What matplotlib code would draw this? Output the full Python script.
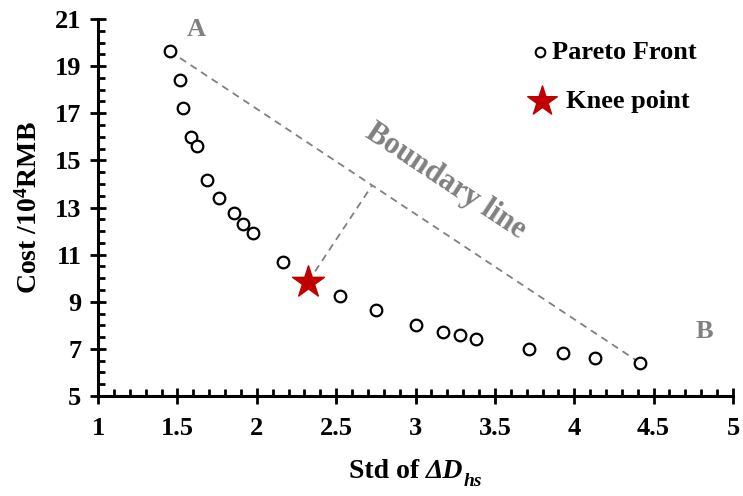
import matplotlib.pyplot as plt
import numpy as np
from matplotlib.ticker import MultipleLocator

plt.rcParams['font.family'] = ['Liberation Serif', 'DejaVu Serif']
plt.rcParams['font.weight'] = 'bold'
plt.rcParams['mathtext.fontset'] = 'custom'
plt.rcParams['mathtext.rm'] = 'Liberation Serif:bold'
plt.rcParams['mathtext.it'] = 'Liberation Serif:bold:italic'
plt.rcParams['mathtext.bf'] = 'Liberation Serif:bold'

# pareto front (std, cost)
std_vals = [1.45, 1.517, 1.535, 1.586, 1.624, 1.687, 1.762, 1.857, 1.913, 1.976,
            2.165, 2.524, 2.751, 3.001, 3.175, 3.283, 3.379, 3.717, 3.929, 4.133, 4.414]
cost_vals = [19.64, 18.41, 17.22, 15.99, 15.61, 14.17, 13.40, 12.77, 12.30, 11.92,
             10.69, 9.24, 8.65, 8.03, 7.73, 7.57, 7.43, 7.01, 6.81, 6.61, 6.41]
knee = (2.323, 9.84)
xticks = [1, 1.5, 2, 2.5, 3, 3.5, 4, 4.5, 5]
xtick_labels = ['1', '1.5', '2', '2.5', '3', '3.5', '4', '4.5', '5']
yticks = [5, 7, 9, 11, 13, 15, 17, 19, 21]

fig = plt.figure(figsize=(7.43, 4.96), dpi=100)
ax = fig.add_axes([0.132, 0.2016, 0.8545, 0.7601])
ax.set_xlim(1, 5)
ax.set_ylim(5, 21)

# boundary line A-B
ax.plot([std_vals[0], std_vals[-1]], [cost_vals[0], cost_vals[-1]],
        ls=(0, (4, 3)), color='#808080', lw=1.3, zorder=1)

# perpendicular from knee to boundary (in display space)
fig.canvas.draw()
tr = ax.transData
p1 = tr.transform((std_vals[0], cost_vals[0]))
p2 = tr.transform((std_vals[-1], cost_vals[-1]))
s = tr.transform(knee)
d = p2 - p1
t = np.dot(s - p1, d) / np.dot(d, d)
foot = tr.inverted().transform(p1 + t * d)
ax.plot([knee[0], foot[0]], [knee[1], foot[1]],
        ls=(0, (4, 3)), color='#808080', lw=1.3, zorder=1)

ax.scatter(std_vals, cost_vals, s=70, facecolors='white', edgecolors='black',
           linewidths=1.6, zorder=3)
ax.scatter([knee[0]], [knee[1]], marker='*', s=580, color='#C00000', zorder=4)

ang = np.degrees(np.arctan2(d[1], d[0]))
ax.text(3.19, 14.1, 'Boundary line', rotation=ang, rotation_mode='anchor',
        ha='center', va='center', color='#808080', fontsize=22, fontweight='bold')
ax.text(1.62, 20.55, 'A', color='#808080', fontsize=19, fontweight='bold',
        ha='center', va='center')
ax.text(4.82, 7.75, 'B', color='#808080', fontsize=19, fontweight='bold',
        ha='center', va='center')

# legend drawn by hand (Excel-like placement)
ax.scatter([0.696], [0.912], s=48, facecolors='white', edgecolors='black',
           linewidths=1.5, transform=ax.transAxes, clip_on=False, zorder=5)
ax.text(0.715, 0.912, 'Pareto Front', transform=ax.transAxes, fontsize=19,
        fontweight='bold', va='center', ha='left')
ax.scatter([0.6995], [0.782], marker='*', s=500, color='#C00000',
           transform=ax.transAxes, clip_on=False, zorder=5)
ax.text(0.737, 0.782, 'Knee point', transform=ax.transAxes, fontsize=19,
        fontweight='bold', va='center', ha='left')

ax.set_ylabel(r'Cost /10$^{4}$RMB', fontsize=20, fontweight='bold', labelpad=9)

ax.set_xticks(xticks)
ax.set_xticklabels(xtick_labels)
ax.set_yticks(yticks)
ax.xaxis.set_minor_locator(MultipleLocator(0.1))
ax.yaxis.set_minor_locator(MultipleLocator(0.5))
ax.tick_params(which='major', direction='inout', length=12, width=2, labelsize=19)
ax.tick_params(axis='x', which='major', pad=9)
ax.tick_params(axis='y', which='major', pad=6)
ax.tick_params(which='minor', direction='in', length=5, width=2)
for side in ['top', 'right']:
    ax.spines[side].set_visible(False)
for side in ['left', 'bottom']:
    ax.spines[side].set_linewidth(2.2)

# x label built from pieces so that the Delta is italic
t1 = fig.text(0.5, 0.036, 'Std of ', fontsize=20, fontweight='bold', va='baseline')
t2 = ax.annotate('ΔD', xy=(1, 0), xycoords=t1, va='bottom', fontsize=20,
                 fontweight='bold', style='italic', annotation_clip=False)
t3 = ax.annotate('hs', xy=(1, 0), xycoords=t2, xytext=(0, -4), textcoords='offset points',
                 va='bottom', fontsize=14, fontweight='bold', style='italic',
                 annotation_clip=False)
fig.canvas.draw()
r = fig.canvas.get_renderer()
x0 = t1.get_window_extent(r).x0
x1 = t3.get_window_extent(r).x1
center = ax.get_window_extent(r).x0 + ax.get_window_extent(r).width / 2
shift = (center - (x0 + x1) / 2) / fig.bbox.width
t1.set_x(0.5 + shift - (0.5 * fig.bbox.width - x0) / fig.bbox.width)

fig.savefig('out.png', dpi=100)
